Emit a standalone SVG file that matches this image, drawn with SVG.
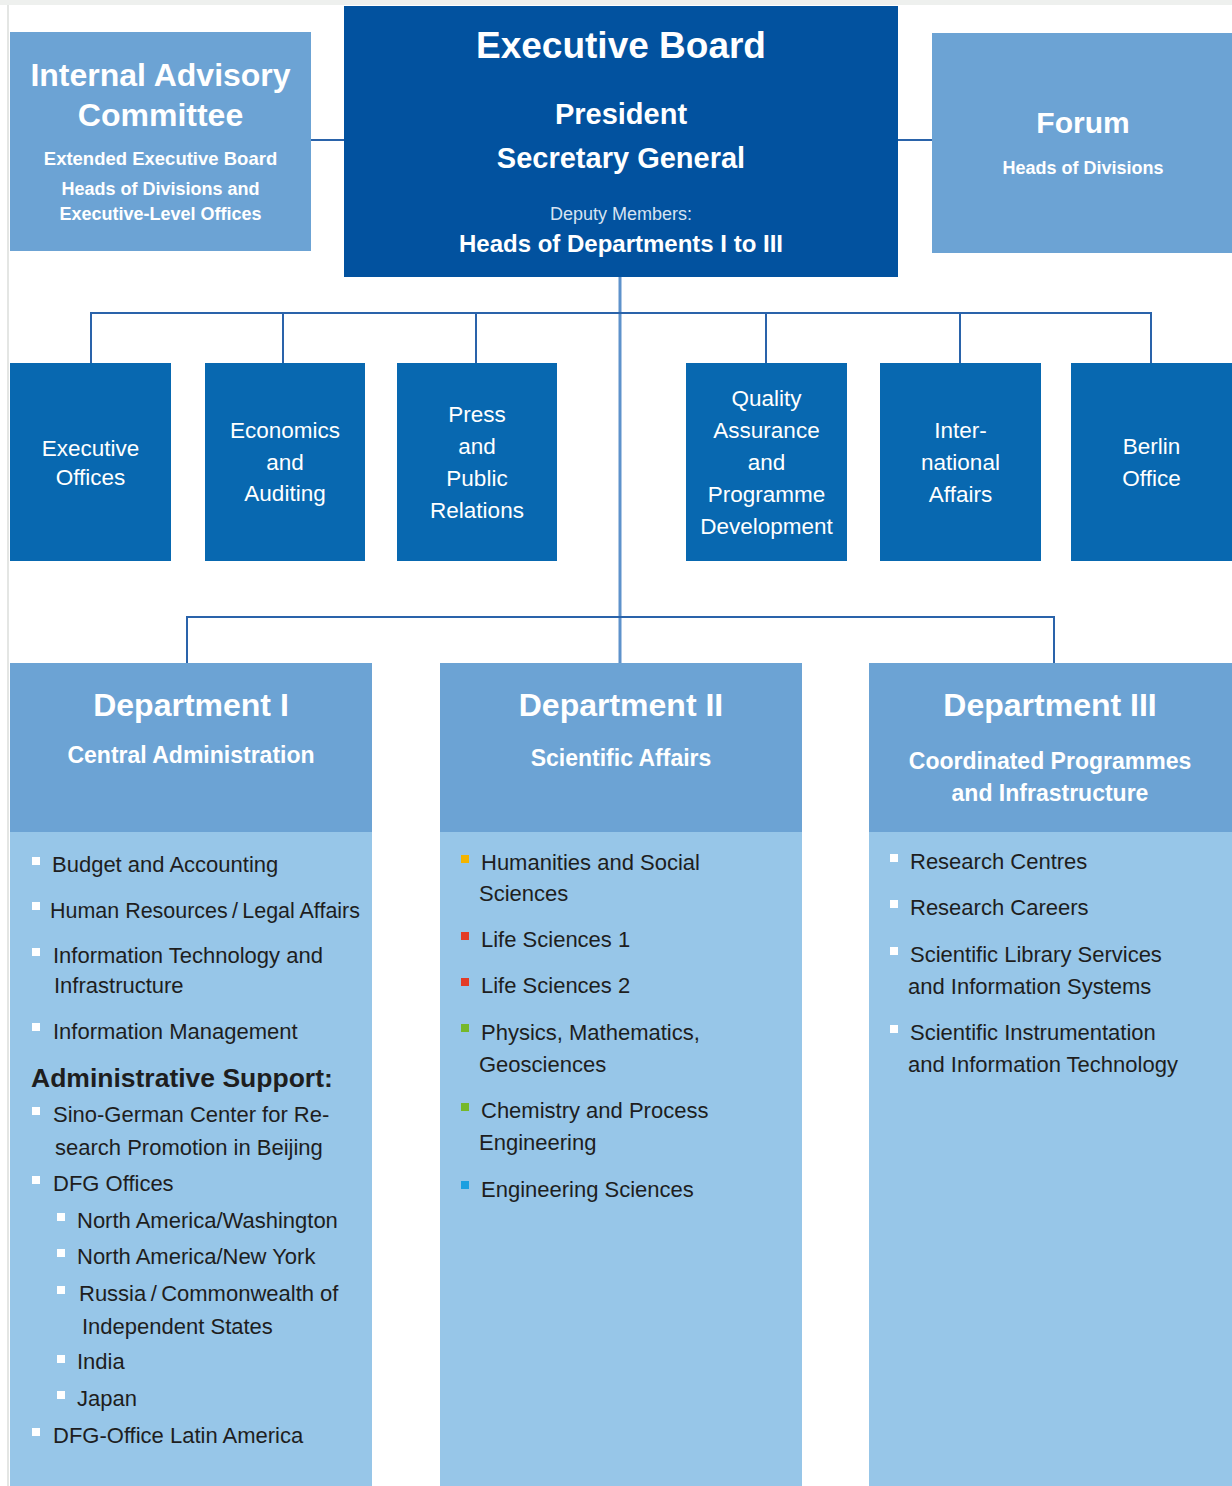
<svg xmlns="http://www.w3.org/2000/svg" width="1232" height="1486" viewBox="0 0 1232 1486">
<style>
text{font-family:"Liberation Sans",Arial,sans-serif}
.w{fill:#ffffff}
.c{text-anchor:middle}
.b7{font-weight:bold}
.mid{fill:#0868b0}
.hdr{fill:#6ca3d4}
.body{fill:#97c6e8}
.li{fill:#1e1e1e;font-size:22px}
.bl{fill:#ffffff}
.con{stroke:#2a63aa;stroke-width:2;fill:none}
.trunk{stroke:#5e92cb;stroke-width:3;fill:none}
.mt{fill:#ffffff;font-size:22.5px;text-anchor:middle}
</style>
<rect x="0" y="0" width="1232" height="1486" fill="#ffffff"/>
<rect x="0" y="0" width="1232" height="5" fill="#eef0ee"/>
<line x1="8" y1="5" x2="8" y2="1486" stroke="#e4e6e4" stroke-width="2"/>

<g id="connectors">
<path class="trunk" d="M620 277 V663"/>
<path class="con" d="M311 140 H344 M898 140 H932"/>
<path class="con" d="M91 363 V313 H1151 V363 M283 313 V363 M476 313 V363 M766 313 V363 M960 313 V363"/>
<path class="con" d="M187 663 V617 H1054 V663"/>
</g>

<g id="internal-advisory-committee">
<rect class="hdr" x="10" y="32" width="301" height="219"/>
<text class="w c b7" x="160.5" y="86" font-size="32">Internal Advisory</text>
<text class="w c b7" x="160.5" y="126" font-size="32">Committee</text>
<text class="w c b7" x="160.5" y="165" font-size="18.5">Extended Executive Board</text>
<text class="w c b7" x="160.5" y="195" font-size="18">Heads of Divisions and</text>
<text class="w c b7" x="160.5" y="220" font-size="18">Executive-Level Offices</text>
</g>

<g id="executive-board">
<rect fill="#02529f" x="344" y="6" width="554" height="271"/>
<text class="w c b7" x="621" y="58" font-size="37">Executive Board</text>
<text class="w c b7" x="621" y="124" font-size="29">President</text>
<text class="w c b7" x="621" y="168" font-size="29">Secretary General</text>
<text class="c" fill="#d6e3f2" x="621" y="220" font-size="18">Deputy Members:</text>
<text class="w c b7" x="621" y="252" font-size="24">Heads of Departments I to III</text>
</g>

<g id="forum">
<rect class="hdr" x="932" y="33" width="300" height="220"/>
<text class="w c b7" x="1083" y="133" font-size="30">Forum</text>
<text class="w c b7" x="1083" y="174" font-size="18">Heads of Divisions</text>
</g>

<g id="executive-offices">
<rect class="mid" x="10" y="363" width="161" height="198"/>
<text class="mt" x="90.5" y="456">Executive</text>
<text class="mt" x="90.5" y="485">Offices</text>
</g>
<g id="economics-and-auditing">
<rect class="mid" x="205" y="363" width="160" height="198"/>
<text class="mt" x="285" y="438">Economics</text>
<text class="mt" x="285" y="470">and</text>
<text class="mt" x="285" y="501">Auditing</text>
</g>
<g id="press-and-public-relations">
<rect class="mid" x="397" y="363" width="160" height="198"/>
<text class="mt" x="477" y="422">Press</text>
<text class="mt" x="477" y="454">and</text>
<text class="mt" x="477" y="486">Public</text>
<text class="mt" x="477" y="518">Relations</text>
</g>
<g id="quality-assurance">
<rect class="mid" x="686" y="363" width="161" height="198"/>
<text class="mt" x="766.5" y="406">Quality</text>
<text class="mt" x="766.5" y="438">Assurance</text>
<text class="mt" x="766.5" y="470">and</text>
<text class="mt" x="766.5" y="502">Programme</text>
<text class="mt" x="766.5" y="534">Development</text>
</g>
<g id="international-affairs">
<rect class="mid" x="880" y="363" width="161" height="198"/>
<text class="mt" x="960.5" y="438">Inter-</text>
<text class="mt" x="960.5" y="470">national</text>
<text class="mt" x="960.5" y="502">Affairs</text>
</g>
<g id="berlin-office">
<rect class="mid" x="1071" y="363" width="161" height="198"/>
<text class="mt" x="1151.5" y="454">Berlin</text>
<text class="mt" x="1151.5" y="486">Office</text>
</g>

<g id="department-1">
<rect class="hdr" x="10" y="663" width="362" height="169"/>
<rect class="body" x="10" y="832" width="362" height="654"/>
<text class="w c b7" x="191" y="716" font-size="32">Department I</text>
<text class="w c b7" x="191" y="763" font-size="23">Central Administration</text>
<rect class="bl" x="32" y="857" width="8" height="8"/>
<text class="li" x="52" y="872">Budget and Accounting</text>
<rect class="bl" x="32" y="902" width="8" height="8"/>
<text class="li" x="50" y="918" textLength="310" lengthAdjust="spacingAndGlyphs">Human Resources&#8201;/&#8201;Legal Affairs</text>
<rect class="bl" x="32" y="948" width="8" height="8"/>
<text class="li" x="53" y="963">Information Technology and</text>
<text class="li" x="54" y="993">Infrastructure</text>
<rect class="bl" x="32" y="1023" width="8" height="8"/>
<text class="li" x="53" y="1039">Information Management</text>
<text class="b7" fill="#1e1e1e" font-size="26.5" x="31" y="1087">Administrative Support:</text>
<rect class="bl" x="32" y="1107" width="8" height="8"/>
<text class="li" x="53" y="1122">Sino-German Center for Re-</text>
<text class="li" x="55" y="1155">search Promotion in Beijing</text>
<rect class="bl" x="32" y="1176" width="8" height="8"/>
<text class="li" x="53" y="1191">DFG Offices</text>
<rect class="bl" x="57" y="1213" width="8" height="8"/>
<text class="li" x="77" y="1228">North America/Washington</text>
<rect class="bl" x="57" y="1249" width="8" height="8"/>
<text class="li" x="77" y="1264">North America/New York</text>
<rect class="bl" x="57" y="1286" width="8" height="8"/>
<text class="li" x="79" y="1301">Russia&#8201;/&#8201;Commonwealth of</text>
<text class="li" x="82" y="1334">Independent States</text>
<rect class="bl" x="57" y="1355" width="8" height="8"/>
<text class="li" x="77" y="1369">India</text>
<rect class="bl" x="57" y="1391" width="8" height="8"/>
<text class="li" x="77" y="1406">Japan</text>
<rect class="bl" x="32" y="1428" width="8" height="8"/>
<text class="li" x="53" y="1443">DFG-Office Latin America</text>
</g>

<g id="department-2">
<rect class="hdr" x="440" y="663" width="362" height="169"/>
<rect class="body" x="440" y="832" width="362" height="654"/>
<text class="w c b7" x="621" y="716" font-size="32">Department II</text>
<text class="w c b7" x="621" y="766" font-size="23">Scientific Affairs</text>
<rect fill="#f4b400" x="461" y="855" width="8" height="8"/>
<text class="li" x="481" y="870">Humanities and Social</text>
<text class="li" x="479" y="901">Sciences</text>
<rect fill="#e33b26" x="461" y="932" width="8" height="8"/>
<text class="li" x="481" y="947">Life Sciences 1</text>
<rect fill="#e33b26" x="461" y="978" width="8" height="8"/>
<text class="li" x="481" y="993">Life Sciences 2</text>
<rect fill="#76b82a" x="461" y="1024" width="8" height="8"/>
<text class="li" x="481" y="1040">Physics, Mathematics,</text>
<text class="li" x="479" y="1072">Geosciences</text>
<rect fill="#76b82a" x="461" y="1103" width="8" height="8"/>
<text class="li" x="481" y="1118">Chemistry and Process</text>
<text class="li" x="479" y="1150">Engineering</text>
<rect fill="#1c9fe0" x="461" y="1181" width="8" height="8"/>
<text class="li" x="481" y="1197">Engineering Sciences</text>
</g>

<g id="department-3">
<rect class="hdr" x="869" y="663" width="363" height="169"/>
<rect class="body" x="869" y="832" width="363" height="654"/>
<text class="w c b7" x="1050" y="716" font-size="32">Department III</text>
<text class="w c b7" x="1050" y="769" font-size="23">Coordinated Programmes</text>
<text class="w c b7" x="1050" y="801" font-size="23">and Infrastructure</text>
<rect class="bl" x="890" y="854" width="8" height="8"/>
<text class="li" x="910" y="869">Research Centres</text>
<rect class="bl" x="890" y="900" width="8" height="8"/>
<text class="li" x="910" y="915">Research Careers</text>
<rect class="bl" x="890" y="947" width="8" height="8"/>
<text class="li" x="910" y="962">Scientific Library Services</text>
<text class="li" x="908" y="994">and Information Systems</text>
<rect class="bl" x="890" y="1025" width="8" height="8"/>
<text class="li" x="910" y="1040">Scientific Instrumentation</text>
<text class="li" x="908" y="1072">and Information Technology</text>
</g>
</svg>
